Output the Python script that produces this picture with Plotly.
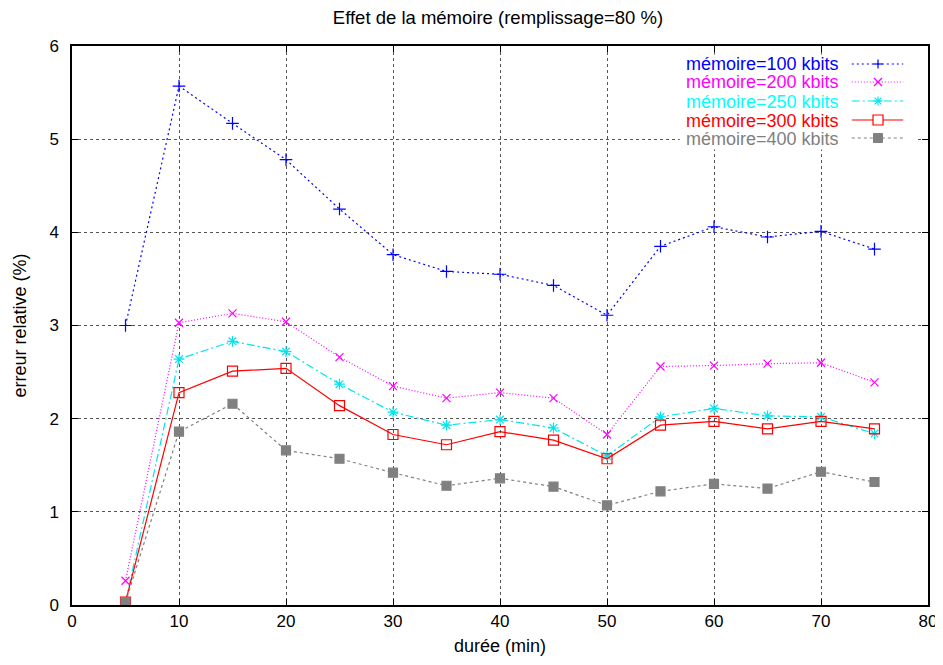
import plotly.graph_objects as go

duree = [5, 10, 15, 20, 25, 30, 35, 40, 45, 50, 55, 60, 65, 70, 75]
mem100 = [3.00, 5.57, 5.17, 4.78, 4.25, 3.76, 3.58, 3.55, 3.43, 3.11, 3.85, 4.06, 3.95, 4.01, 3.82]
mem200 = [0.26, 3.03, 3.13, 3.04, 2.66, 2.35, 2.22, 2.28, 2.22, 1.83, 2.56, 2.57, 2.59, 2.60, 2.39]
mem250 = [0.03, 2.64, 2.83, 2.72, 2.37, 2.07, 1.93, 1.99, 1.90, 1.60, 2.02, 2.11, 2.03, 2.02, 1.84]
mem300 = [0.03, 2.28, 2.51, 2.54, 2.14, 1.83, 1.72, 1.86, 1.77, 1.57, 1.93, 1.97, 1.89, 1.97, 1.89]
mem400 = [0.03, 1.86, 2.16, 1.66, 1.57, 1.42, 1.28, 1.36, 1.27, 1.07, 1.22, 1.30, 1.25, 1.43, 1.32]

series = [
    ("mémoire=100 kbits", mem100, "#0000ff", "2px,3px", "cross-thin-open", 9, "#0000ff"),
    ("mémoire=200 kbits", mem200, "#ff00ff", "1px,2px", "x-thin-open", 8, "#ff00ff"),
    ("mémoire=250 kbits", mem250, "#00e5ee", "8px,3px,2px,3px", "asterisk-open", 9, "#00ffff"),
    ("mémoire=300 kbits", mem300, "#ff0000", "solid", "square-open", 10, "#ff0000"),
    ("mémoire=400 kbits", mem400, "#808080", "3px,3px", "square", 9, "#808080"),
]

FONT = "Liberation Sans, Arial, sans-serif"
W, H = 935, 657
ML, MR, MT, MB = 64, 15, 38, 60
PW, PH = W - ML - MR, H - MT - MB

fig = go.Figure()

for name, vals, col, dash, sym, size, tcol in series:
    fig.add_trace(go.Scatter(
        x=duree, y=vals, mode="lines+markers", name=name,
        line=dict(color=col, width=1.2, dash=dash),
        marker=dict(symbol=sym, size=size, color=col, line=dict(color=col, width=1.2)),
        showlegend=False))

# ---- manual legend (gnuplot style: text right-aligned, sample on the right) ----
fig.add_shape(type="rect", xref="paper", yref="paper", x0=0.71, x1=0.985, y0=0.815, y1=0.985,
              fillcolor="white", line=dict(width=0), layer="above")

rows = [0.9678, 0.9356, 0.9016, 0.8676, 0.8354]
x0, xm, x1 = 0.911, 0.9416, 0.971


def seg(xa, ya, xb, yb, col):
    fig.add_shape(type="line", xref="paper", yref="paper", x0=xa, y0=ya, x1=xb, y1=yb,
                  line=dict(color=col, width=1.2), layer="above")


for (name, vals, col, dash, sym, size, tcol), ry in zip(series, rows):
    fig.add_shape(type="line", xref="paper", yref="paper", x0=x0, x1=x1, y0=ry, y1=ry,
                  line=dict(color=col, width=1.2, dash=dash), layer="above")
    d = size / 2.0
    dx, dy = d / PW, d / PH
    if sym == "cross-thin-open":
        seg(xm - dx, ry, xm + dx, ry, col)
        seg(xm, ry - dy, xm, ry + dy, col)
    elif sym == "x-thin-open":
        seg(xm - dx, ry - dy, xm + dx, ry + dy, col)
        seg(xm - dx, ry + dy, xm + dx, ry - dy, col)
    elif sym == "asterisk-open":
        seg(xm - dx, ry, xm + dx, ry, col)
        seg(xm, ry - dy, xm, ry + dy, col)
        seg(xm - dx * 0.75, ry - dy * 0.75, xm + dx * 0.75, ry + dy * 0.75, col)
        seg(xm - dx * 0.75, ry + dy * 0.75, xm + dx * 0.75, ry - dy * 0.75, col)
    elif sym == "square-open":
        fig.add_shape(type="rect", xref="paper", yref="paper", x0=xm - dx, x1=xm + dx,
                      y0=ry - dy, y1=ry + dy, fillcolor="white",
                      line=dict(color=col, width=1.2), layer="above")
    else:
        fig.add_shape(type="rect", xref="paper", yref="paper", x0=xm - dx, x1=xm + dx,
                      y0=ry - dy, y1=ry + dy, fillcolor=col,
                      line=dict(color=col, width=1), layer="above")
    fig.add_annotation(x=0.897, y=ry, xref="paper", yref="paper",
                       text=name, showarrow=False, xanchor="right", yanchor="middle",
                       height=17, borderpad=0, valign="middle",
                       font=dict(family=FONT, size=18, color=tcol))

axis_common = dict(showline=True, linecolor="black", linewidth=1.5, mirror="ticks",
                   ticks="inside", ticklen=6, tickcolor="black", tickwidth=1,
                   showgrid=True, gridcolor="#555555", griddash="dot", gridwidth=1,
                   zeroline=False, automargin=False,
                   tickfont=dict(family=FONT, size=17, color="black"))

fig.update_layout(
    width=W, height=H,
    paper_bgcolor="white", plot_bgcolor="white",
    margin=dict(l=ML, r=MR, t=MT, b=MB),
    title=dict(text="Effet de la mémoire (remplissage=80 %)", x=0.524, xanchor="center",
               yref="container", y=0.985, yanchor="middle",
               font=dict(family=FONT, size=18.5, color="black")),
    xaxis=dict(range=[0, 80], dtick=10, tick0=0, ticklabelstandoff=0,
               title=dict(text="durée (min)", font=dict(family=FONT, size=18, color="black"), standoff=9),
               **axis_common),
    yaxis=dict(range=[0, 6], dtick=1, tick0=0, ticklabelstandoff=8,
               title=dict(text="erreur relative (%)", font=dict(family=FONT, size=18, color="black"), standoff=18),
               **axis_common),
)

fig.write_html("out.html")
